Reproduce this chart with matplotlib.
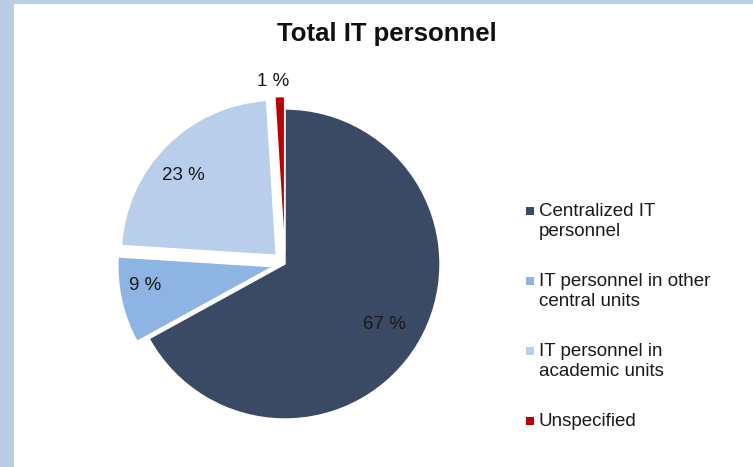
import numpy as np
import matplotlib
matplotlib.use('Agg')
import matplotlib.pyplot as plt
from matplotlib.patches import Rectangle

plt.rcParams['font.family'] = ['Liberation Sans', 'DejaVu Sans']

# data
categories = ['Centralized IT\npersonnel',
              'IT personnel in other\ncentral units',
              'IT personnel in\nacademic units',
              'Unspecified']
shares = [67, 9, 23, 1]
colors = ['#3B4A64', '#8DB4E2', '#B9CEEA', '#C00000']
explode = [0, 0.08, 0.08, 0.08]
# label placement (radius fraction, angle shift in degrees from wedge middle)
label_dist = [0.75, 0.83, 0.79, 1.10]
label_shift = [-1, -4.4, 4.3, 2.1]

W, H = 753, 467
fig = plt.figure(figsize=(W / 100, H / 100), dpi=100)
fig.patch.set_facecolor('#B9CDE5')
# white panel inside the light blue frame
fig.patches.append(Rectangle((14 / W, 0), 1 - 14 / W, 1 - 4 / H,
                             transform=fig.transFigure, facecolor='white',
                             edgecolor='none', zorder=-5))

# pie: center (285, 264) px, radius 155 px
cx, cy, r = 285, 264, 155
half = 1.5 * r
ax = fig.add_axes([(cx - half) / W, (H - cy - half) / H, 2 * half / W, 2 * half / H])
ax.set_zorder(2)
wedges, _ = ax.pie(shares, colors=colors, explode=explode, startangle=90,
                   counterclock=False,
                   wedgeprops=dict(edgecolor='white', linewidth=1))
ax.set_xlim(-1.5, 1.5)
ax.set_ylim(-1.5, 1.5)
ax.set_aspect('equal')
ax.axis('off')

for w, val, d, sh in zip(wedges, shares, label_dist, label_shift):
    ang = np.deg2rad((w.theta1 + w.theta2) / 2 + sh)
    x0, y0 = w.center
    ax.text(x0 + d * np.cos(ang), y0 + d * np.sin(ang), f'{val} %',
            ha='center', va='center', fontsize=13.5, color='#1a1a1a')

fig.text(387 / W, 1 - 34 / H, 'Total IT personnel', ha='center', va='center',
         fontsize=18.5, fontweight='bold', color='#111111')

# legend
for i, (lab, col) in enumerate(zip(categories, colors)):
    ytop = 203 + i * 70
    fig.patches.append(Rectangle((526 / W, 1 - (ytop + 12) / H), 8 / W, 8 / H,
                                 transform=fig.transFigure, facecolor=col,
                                 edgecolor='none'))
    fig.text(539 / W, 1 - ytop / H, lab, ha='left', va='top', fontsize=13.5,
             color='#1a1a1a', linespacing=1.2)

fig.savefig('out.png', dpi=100, facecolor=fig.get_facecolor())
